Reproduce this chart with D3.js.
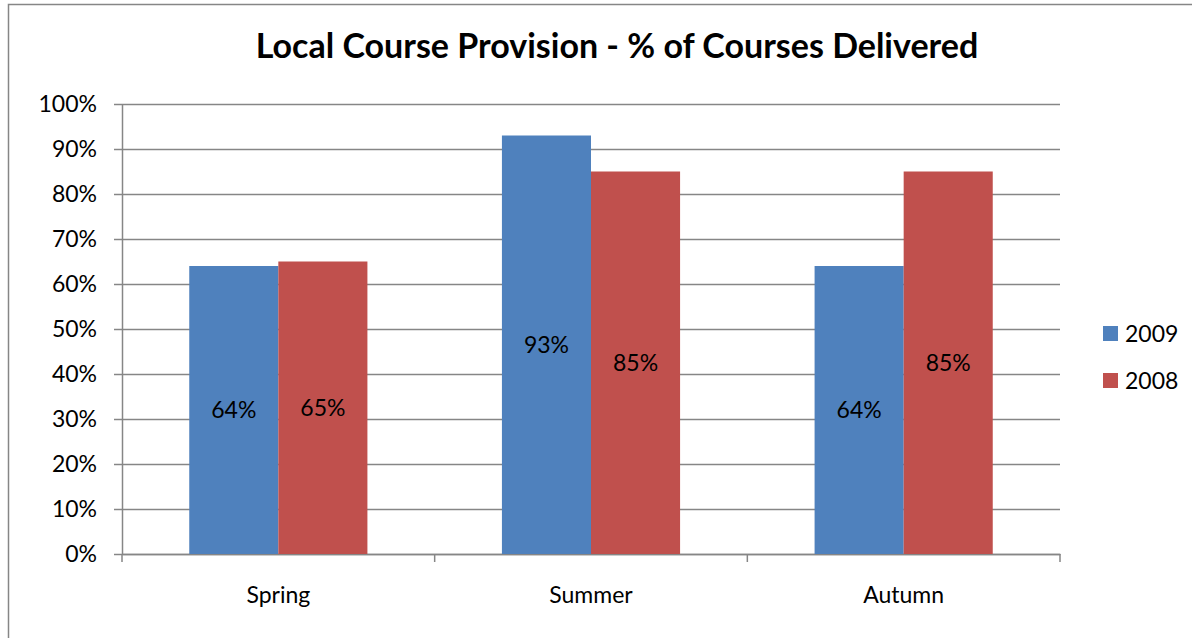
<!DOCTYPE html>
<html>
<head>
<meta charset="utf-8">
<script src="https://cdn.jsdelivr.net/npm/d3@7"></script>
<style>
  body { margin: 0; background: #fff; }
  text { font-family: Lato, "Open Sans", sans-serif; fill: #000; }
</style>
</head>
<body>
<div id="chart"></div>
<script>
// Chart data
const seasons = ["Spring", "Summer", "Autumn"];
const seriesNames = ["2009", "2008"];
const values2009 = [0.64, 0.93, 0.64];
const values2008 = [0.65, 0.85, 0.85];
const yTicks = [0, 0.1, 0.2, 0.3, 0.4, 0.5, 0.6, 0.7, 0.8, 0.9, 1.0];
const colors = ["#4f81bd", "#c0504d"];

const width = 1192, height = 638;
const plot = {left: 122, right: 1060, top: 104, bottom: 554};
const fontSize = 23;

const svg = d3.select("#chart")
    .append("svg")
    .attr("width", width)
    .attr("height", height);

// outer chart frame
svg.append("rect")
    .attr("x", 8.5).attr("y", 4.5)
    .attr("width", 1200).attr("height", 700)
    .attr("fill", "none")
    .attr("stroke", "#868686")
    .attr("stroke-width", 1.5);

const x = d3.scaleBand()
    .domain(seasons)
    .range([plot.left, plot.right]);

const x1 = d3.scaleBand()
    .domain(seriesNames)
    .range([0, x.bandwidth()])
    .paddingOuter(0.755)
    .paddingInner(0);

const y = d3.scaleLinear()
    .domain([0, 1])
    .range([plot.bottom, plot.top]);

// gridlines
svg.append("g")
    .selectAll("line")
    .data(yTicks)
    .enter()
    .append("line")
    .attr("x1", plot.left - 8)
    .attr("x2", plot.right)
    .attr("y1", d => Math.round(y(d)) + 0.5)
    .attr("y2", d => Math.round(y(d)) + 0.5)
    .attr("stroke", "#868686")
    .attr("stroke-width", 1.5);

// y axis
const yAxis = svg.append("g")
    .attr("transform", `translate(${plot.left},0)`)
    .call(d3.axisLeft(y).tickValues(yTicks).tickFormat(d3.format(".0%")).tickSize(0).tickPadding(25));
yAxis.select(".domain").attr("stroke", "#868686").attr("stroke-width", 1.5);
yAxis.selectAll("text").attr("font-size", fontSize).attr("font-family", "Lato, sans-serif");

// x axis
const xAxis = svg.append("g")
    .attr("transform", `translate(0,${plot.bottom})`)
    .call(d3.axisBottom(x).tickSize(0).tickPadding(33));
xAxis.select(".domain").attr("stroke", "#868686").attr("stroke-width", 1.5);
xAxis.selectAll("text").attr("font-size", fontSize).attr("font-family", "Lato, sans-serif");

// category separator ticks
svg.append("g")
    .selectAll("line")
    .data(d3.range(seasons.length + 1))
    .enter()
    .append("line")
    .attr("x1", i => plot.left + i * x.step())
    .attr("x2", i => plot.left + i * x.step())
    .attr("y1", plot.bottom)
    .attr("y2", plot.bottom + 8)
    .attr("stroke", "#868686")
    .attr("stroke-width", 1.5);

// bars
const rows = seasons.map((s, i) => ({season: s, vals: [
    {name: seriesNames[0], value: values2009[i]},
    {name: seriesNames[1], value: values2008[i]}
]}));

const groups = svg.selectAll(".grp")
    .data(rows)
    .enter()
    .append("g")
    .attr("transform", d => `translate(${x(d.season)},0)`);

groups.selectAll("rect")
    .data(d => d.vals)
    .enter()
    .append("rect")
    .attr("x", d => x1(d.name))
    .attr("y", d => y(d.value))
    .attr("width", x1.bandwidth())
    .attr("height", d => plot.bottom - y(d.value))
    .attr("fill", (d, i) => colors[i]);

groups.selectAll(".lbl")
    .data(d => d.vals)
    .enter()
    .append("text")
    .attr("x", d => x1(d.name) + x1.bandwidth() / 2)
    .attr("y", d => (y(d.value) + plot.bottom) / 2)
    .attr("dy", "0.35em")
    .attr("text-anchor", "middle")
    .attr("font-size", fontSize)
    .text(d => d3.format(".0%")(d.value));

// title
svg.append("text")
    .attr("x", 617)
    .attr("y", 58)
    .attr("text-anchor", "middle")
    .attr("font-size", 34)
    .attr("font-weight", "bold")
    .text("Local Course Provision - % of Courses Delivered");

// legend
const legend = svg.append("g")
    .selectAll("g")
    .data(seriesNames)
    .enter()
    .append("g")
    .attr("transform", (d, i) => `translate(1103,${326 + i * 47})`);

legend.append("rect")
    .attr("width", 15).attr("height", 15)
    .attr("fill", (d, i) => colors[i]);

legend.append("text")
    .attr("x", 22)
    .attr("y", 8)
    .attr("dy", "0.35em")
    .attr("font-size", fontSize)
    .text(d => d);
</script>
</body>
</html>
